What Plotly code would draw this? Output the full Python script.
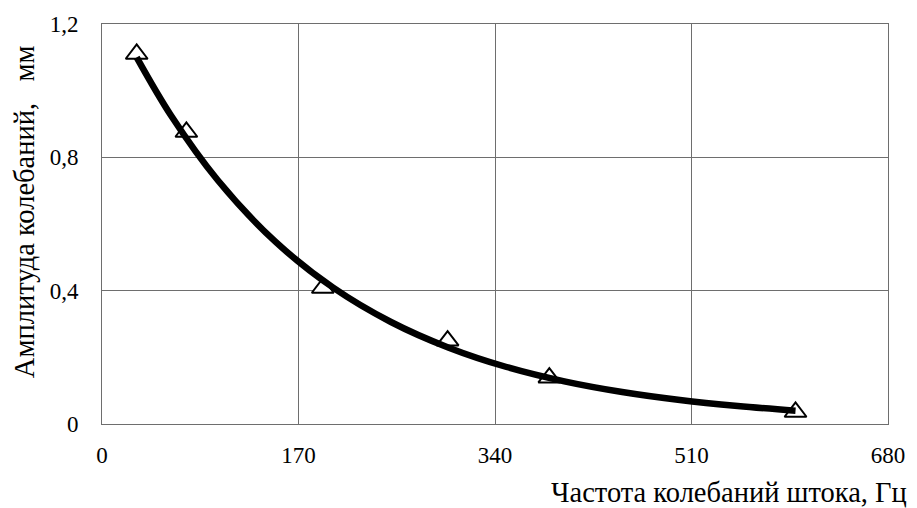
import plotly.graph_objects as go

# measured points (frequency, amplitude)
freq_pts = [30, 73, 191, 299, 387, 600]
amp_pts = [1.11, 0.876, 0.408, 0.25, 0.139, 0.036]

# trend curve
freq_curve = [30, 60, 100, 150, 200, 250, 300, 350, 400, 450, 500, 550, 600]
amp_curve = [1.10, 0.924, 0.732, 0.547, 0.409, 0.306, 0.229, 0.171, 0.128, 0.096, 0.072, 0.054, 0.040]

x_ticks = [0, 170, 340, 510, 680]
x_tick_text = ["0", "170", "340", "510", "680"]
y_ticks = [0, 0.4, 0.8, 1.2]
y_tick_text = ["0", "0,4", "0,8", "1,2"]

x_title = "Частота колебаний штока, Гц"
y_title = "Амплитуда колебаний,\u00a0\u00a0\u00a0мм"

FONT = "Liberation Serif, Times New Roman, serif"

fig = go.Figure()
fig.add_trace(go.Scatter(
    x=freq_pts, y=amp_pts, mode="markers",
    marker=dict(symbol="triangle-up", size=19, color="white",
                line=dict(color="black", width=2)),
    showlegend=False, hoverinfo="skip"))
fig.add_trace(go.Scatter(
    x=freq_curve, y=amp_curve, mode="lines",
    line=dict(color="black", width=6.5, shape="spline"),
    showlegend=False, hoverinfo="skip"))

axis_common = dict(showgrid=True, gridcolor="#6e6e6e", gridwidth=1,
                   showline=True, linecolor="#6e6e6e", linewidth=1, mirror=True,
                   zeroline=False, ticks="",
                   tickfont=dict(family=FONT, size=23, color="black"))

fig.update_xaxes(range=[0, 680], tickvals=x_ticks, ticktext=x_tick_text,
                 ticklabelstandoff=10, **axis_common)
fig.update_yaxes(range=[0, 1.2], tickvals=y_ticks, ticktext=y_tick_text,
                 ticklabelstandoff=18, **axis_common)

fig.update_layout(
    width=917, height=508,
    margin=dict(l=102, r=19, t=23, b=84),
    plot_bgcolor="white", paper_bgcolor="white",
    font=dict(family=FONT, color="black"),
    annotations=[
        dict(text=x_title, xref="paper", yref="paper", x=0.7975, y=-0.17,
             xanchor="center", yanchor="middle", showarrow=False,
             font=dict(family=FONT, size=28.5, color="black")),
        dict(text=y_title, xref="paper", yref="paper", x=-0.099, y=0.53,
             xanchor="center", yanchor="middle", showarrow=False, textangle=-90,
             font=dict(family=FONT, size=28.5, color="black")),
    ],
)

fig.write_html("out.html")
